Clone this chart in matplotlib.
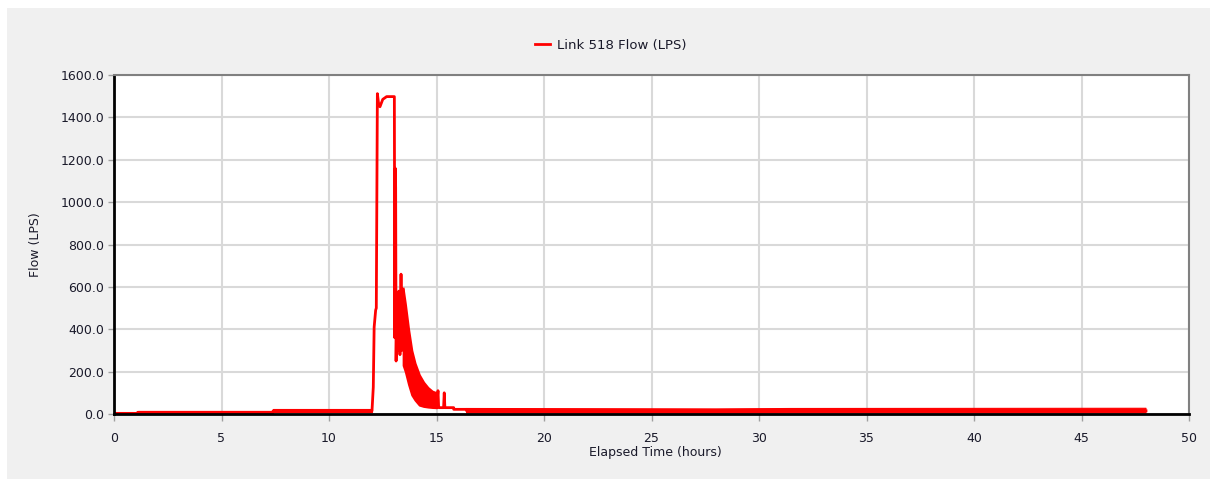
import matplotlib.pyplot as plt
from matplotlib.patches import Rectangle

plt.rcParams['font.family'] = ['DejaVu Sans']

# main trace (hours, LPS)
flow_t = [0.0, 1.1, 1.1, 7.4, 7.4, 12.0, 12.06, 12.1, 12.17, 12.2, 12.25, 12.3,
          12.37, 12.5, 12.68, 13.04, 13.06, 13.08, 13.1, 13.12, 13.15, 13.2,
          13.25, 13.3, 13.35, 13.4, 13.45]
flow_v = [3, 3, 8, 8, 15, 15, 127, 410, 490, 500, 1512, 1470,
          1450, 1485, 1498, 1498, 360, 1160, 1070, 250, 450, 300,
          580, 280, 660, 300, 590]

# oscillating band after the peak: upper / lower envelopes
band_t = [13.45, 13.55, 13.7, 13.85, 14.0, 14.2, 14.4, 14.6, 14.8, 15.0]
band_hi = [590, 520, 400, 300, 240, 185, 150, 125, 108, 100]
band_lo = [230, 200, 140, 90, 66, 42, 36, 33, 31, 30]

# tail after the band
tail_t = [15.0, 15.07, 15.1, 15.13, 15.33, 15.36, 15.39, 15.8, 15.8, 16.4, 16.4, 48.0]
tail_v = [30, 110, 30, 30, 30, 100, 30, 30, 22, 22, 15, 15]

# low-level noise band (hours, upper, lower)
noise_t = [1.1, 7.4, 7.4, 12.0, 12.0, 16.4, 16.4, 28.0, 31.5, 48.0]
noise_hi = [15, 15, 22, 22, 0, 0, 26, 24, 26, 27]
noise_lo = [3, 3, 10, 10, 0, 0, 5, 4, 5, 5]

x_ticks = [0, 5, 10, 15, 20, 25, 30, 35, 40, 45, 50]
y_ticks = [0, 200, 400, 600, 800, 1000, 1200, 1400, 1600]

red = '#ff0000'
txt = '#1a1a2a'
fig = plt.figure(figsize=(12.1, 4.79), dpi=100)
fig.patch.set_facecolor('white')
fig.patches.append(Rectangle((7 / 1210, 0), 1, 1 - 8 / 479, transform=fig.transFigure,
                             facecolor='#f0f0f0', edgecolor='none', zorder=-10))

ax = fig.add_axes([114 / 1210, 65 / 479, 1075 / 1210, 339 / 479])
ax.set_facecolor('white')

line, = ax.plot(flow_t, flow_v, color=red, lw=2, label='Link 518 Flow (LPS)')
ax.fill_between(band_t, band_lo, band_hi, color=red, lw=1.5, edgecolor=red)
ax.plot(tail_t, tail_v, color=red, lw=2)
ax.fill_between(noise_t, noise_lo, noise_hi, where=[h > 0 for h in noise_hi],
                color=red, lw=0.8, edgecolor=red)

ax.set_xlim(0, 50)
ax.set_ylim(0, 1600)
ax.set_xticks(x_ticks)
ax.set_yticks(y_ticks)
ax.set_yticklabels([f'{v:.1f}' for v in y_ticks])
ax.grid(True, color='#d9d9d9', lw=1.5)
ax.set_axisbelow(True)
ax.tick_params(direction='out', length=4, width=1, color='#a0a0a0',
               labelsize=9, labelcolor=txt)
ax.tick_params(axis='y', pad=3)
ax.tick_params(axis='x', length=5, pad=8)

for s in ['top', 'right']:
    ax.spines[s].set_color('#808080')
    ax.spines[s].set_linewidth(1.5)
for s in ['left', 'bottom']:
    ax.spines[s].set_color('black')
    ax.spines[s].set_linewidth(2)

ax.set_xlabel('Elapsed Time (hours)', fontsize=9, color=txt)
ax.set_ylabel('Flow (LPS)', fontsize=9, color=txt)
ax.xaxis.set_label_coords(0.504, -0.093)
ax.yaxis.set_label_coords(-0.067, 0.5)

fig.legend(handles=[line], loc='center', bbox_to_anchor=(611 / 1210, 1 - 45 / 479),
           frameon=False, fontsize=9.5, handlelength=1.1, handletextpad=0.6,
           labelcolor=txt)

fig.savefig('out.png', dpi=100)
